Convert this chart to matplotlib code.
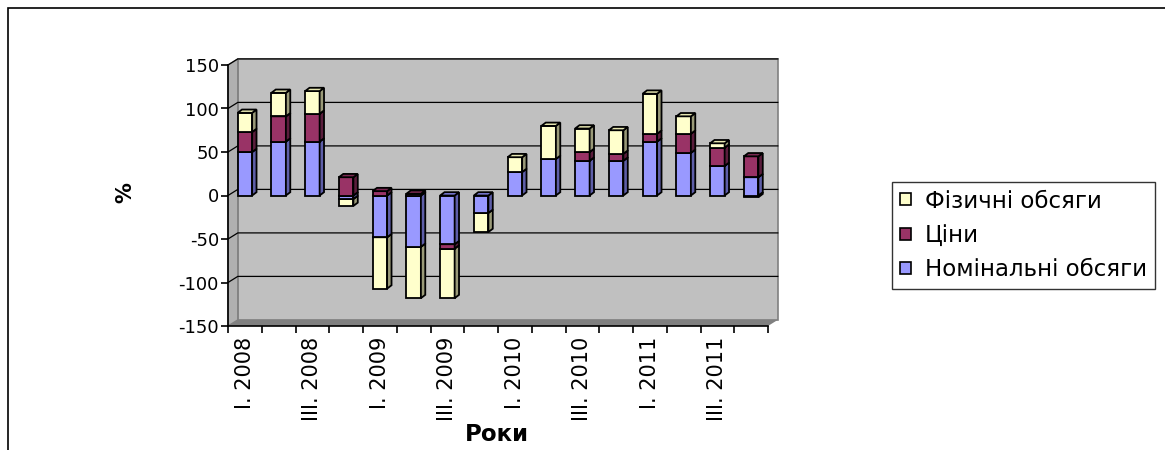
import matplotlib
matplotlib.use("Agg")
import matplotlib.pyplot as plt
from matplotlib.patches import Polygon, Rectangle, Patch

plt.rcParams['font.family'] = ['DejaVu Sans']
plt.rcParams['axes.unicode_minus'] = False

# Дані (квартали 2008-2011)
quarters = ['I. 2008', 'II. 2008', 'III. 2008', 'IV. 2008',
            'I. 2009', 'II. 2009', 'III. 2009', 'IV. 2009',
            'I. 2010', 'II. 2010', 'III. 2010', 'IV. 2010',
            'I. 2011', 'II. 2011', 'III. 2011', 'IV. 2011']
nominal = [50, 62, 62, -4, -48, -59, -56, -20, 27, 42, 40, 40, 62, 49, 34, 21]
prices = [23, 29, 32, 21, 5, 2, -5, 0, 0, 0, 10, 8, 9, 22, 21, 24]
physical = [22, 27, 26, -8, -59, -59, -57, -22, 17, 38, 27, 27, 46, 20, 5, -2]

series_names = ['Номінальні обсяги', 'Ціни', 'Фізичні обсяги']
series_vals = [nominal, prices, physical]
front_colors = ['#9999FF', '#993366', '#FFFFCC']
side_colors = ['#5E5EA8', '#5A1D3C', '#9A9A78']
top_colors = ['#8080E0', '#7A2850', '#E6E6B0']

n = len(quarters)
width = 0.43
ddx, ddy = 0.13, 3.8      # глибина стовпця
wdx, wdy = 0.29, 7.0      # глибина стін

fig = plt.figure(figsize=(11.65, 4.5), dpi=100)
ax = fig.add_axes([228 / 1165, 1 - 326 / 450, 540 / 1165, 261 / 450])
ax.set_xlim(-0.5, n - 0.5)
ax.set_ylim(-150, 150)
ax.set_facecolor('none')

# стіни
x0, x1 = -0.5, n - 0.5
ax.add_patch(Polygon([(x0 + wdx, -150 + wdy), (x1 + wdx, -150 + wdy),
                      (x1 + wdx, 150 + wdy), (x0 + wdx, 150 + wdy)],
                     closed=True, facecolor='#C0C0C0', edgecolor='#808080',
                     lw=1.2, clip_on=False, zorder=0))
ax.add_patch(Polygon([(x0, -150), (x0 + wdx, -150 + wdy), (x0 + wdx, 150 + wdy), (x0, 150)],
                     closed=True, facecolor='#B0B0B0', edgecolor='#808080', lw=1.0,
                     clip_on=False, zorder=0))
ax.add_patch(Polygon([(x0, -150), (x1, -150), (x1 + wdx, -150 + wdy), (x0 + wdx, -150 + wdy)],
                     closed=True, facecolor='#808080', edgecolor='none',
                     clip_on=False, zorder=0))

# сітка
for g in range(-100, 151, 50):
    ax.plot([x0, x0 + wdx, x1 + wdx], [g, g + wdy, g + wdy], color='black',
            lw=0.9, clip_on=False, zorder=1)


def draw_segment(i, bottom, top, k):
    left = i - width / 2
    right = i + width / 2
    lo, hi = min(bottom, top), max(bottom, top)
    ax.bar(i, hi - lo, width=width, bottom=lo, color=front_colors[k],
           edgecolor='black', linewidth=1.3, zorder=3 + i * 0.01)
    ax.add_patch(Polygon([(right, lo), (right + ddx, lo + ddy), (right + ddx, hi + ddy), (right, hi)],
                         closed=True, facecolor=side_colors[k], edgecolor='black',
                         lw=1.3, zorder=3 + i * 0.01, clip_on=False))
    ax.add_patch(Polygon([(left, hi), (right, hi), (right + ddx, hi + ddy), (left + ddx, hi + ddy)],
                         closed=True, facecolor=top_colors[k], edgecolor='black',
                         lw=1.3, zorder=3 + i * 0.01, clip_on=False))


for i in range(n):
    # від'ємні: спочатку зовнішні сегменти
    negs = []
    base = 0
    for k, vals in enumerate(series_vals):
        v = vals[i]
        if v < 0:
            negs.append((k, base, base + v))
            base += v
    for k, b, t in reversed(negs):
        draw_segment(i, t, b, k)
    base = 0
    for k, vals in enumerate(series_vals):
        v = vals[i]
        if v > 0:
            draw_segment(i, base, base + v, k)
            base += v

# осі
for s in ['top', 'right']:
    ax.spines[s].set_visible(False)
for s in ['left', 'bottom']:
    ax.spines[s].set_linewidth(1.2)
    ax.spines[s].set_zorder(2)

ax.set_yticks(range(-150, 151, 50))
ax.tick_params(axis='y', length=5, width=1.2, labelsize=13, pad=1.5)
ax.set_xticks(range(0, n, 2))
ax.set_xticklabels(quarters[::2], rotation=90, fontsize=15)
ax.set_xticks([j - 0.5 for j in range(n + 1)], minor=True)
ax.tick_params(axis='x', which='major', length=0, pad=8)
ax.tick_params(axis='x', which='minor', length=5, width=1.2)

ax.set_ylabel('%', fontsize=15, fontweight='bold')
ax.yaxis.set_label_coords(-0.172, 0.51)
ax.set_xlabel('Роки', fontsize=16.5, fontweight='bold')
ax.xaxis.set_label_coords(0.498, -0.372)

# легенда
handles = [Patch(facecolor=front_colors[k], edgecolor='black', linewidth=1.2) for k in [2, 1, 0]]
labels = [series_names[k] for k in [2, 1, 0]]
leg = fig.legend(handles, labels, loc='upper left', bbox_to_anchor=(892 / 1165, 1 - 182 / 450),
                 fontsize=16.5, frameon=True, fancybox=False, handlelength=0.52,
                 handleheight=0.42, handletextpad=0.6, borderpad=0.33, labelspacing=0.5,
                 borderaxespad=0)
leg.get_frame().set_edgecolor('black')
leg.get_frame().set_linewidth(1.0)

# рамка
fig.patches.append(Rectangle((8 / 1165, -0.1), 1.2, 1.1 - 8 / 450, transform=fig.transFigure,
                             fill=False, edgecolor='black', lw=1.2))

fig.savefig('out.png', dpi=100)
